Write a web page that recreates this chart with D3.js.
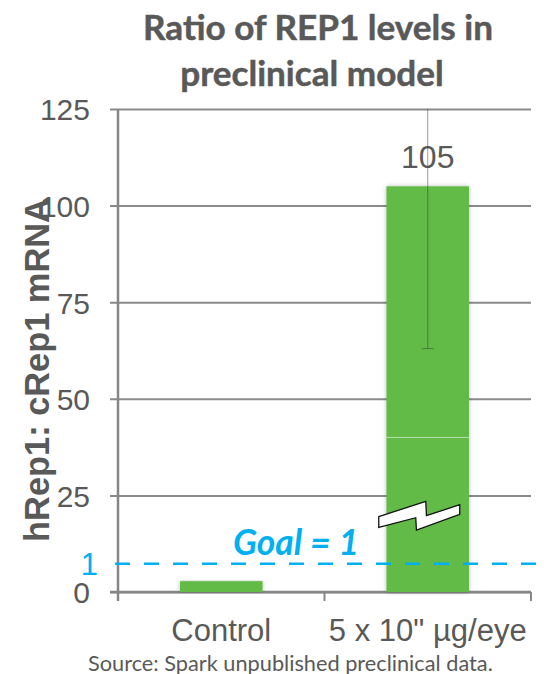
<!DOCTYPE html>
<html>
<head>
<meta charset="utf-8">
<script src="https://cdn.jsdelivr.net/npm/d3@7"></script>
<style>
  html, body { margin: 0; padding: 0; background: #fff; }
  svg { display: block; }
</style>
</head>
<body>
<svg id="chart" width="544" height="674"></svg>
<script>
// ---- data ----
const titleLines = ["Ratio of REP1 levels in", "preclinical model"];
const yAxisTitle = "hRep1: cRep1 mRNA";
const categories = ["Control", "5 x 10\" µg/eye"];
const values = [2.8, 105];
const valueLabels = ["", "105"];
const errLow = [null, 63];
const errHigh = [null, 147];
const yTicks = [0, 25, 50, 75, 100, 125];
const goalValue = 7.3;        // drawn height of the goal line (labelled "1")
const goalAxisLabel = "1";
const goalText = "Goal = 1";
const breakValue = 20;        // where the axis-break symbol sits on the tall bar
const gapValue = 40;          // faint gap in the tall bar
const sourceText = "Source: Spark unpublished preclinical data.";

// ---- layout ----
const svg = d3.select("#chart");
const W = 544;
const plot = { left: 118, right: 531, top: 109, bottom: 592 };
const gray = "#595959";
const gridCol = "#8a8a8a";
const green = "#62bb46";
const blue = "#00b0f0";
const armo = "'Liberation Sans', Arial, sans-serif";
const cal = "Lato, 'Open Sans', sans-serif";

const x = d3.scaleBand().domain(categories).range([plot.left, plot.right]).padding(0);
const y = d3.scaleLinear().domain([0, 125]).range([plot.bottom, plot.top]);
const barW = x.bandwidth() * 0.40;

function fit(sel, target) {
  const fs = parseFloat(sel.attr("font-size"));
  const w = sel.node().getComputedTextLength();
  sel.attr("font-size", fs * target / w);
  return fs * target / w;
}

// defs: soft shadow for bars
const defs = svg.append("defs");
const f = defs.append("filter").attr("id", "sh").attr("x", "-20%").attr("y", "-5%").attr("width", "140%").attr("height", "110%");
f.append("feDropShadow").attr("dx", 0).attr("dy", 0).attr("stdDeviation", 2)
  .attr("flood-color", "#000").attr("flood-opacity", 0.28);

// ---- title ----
const t1 = svg.append("text").attr("x", 318).attr("y", 40).attr("text-anchor", "middle")
  .attr("font-family", cal).attr("font-weight", 700).attr("font-size", 34).attr("fill", gray)
  .attr("stroke", gray).attr("stroke-width", 0.5)
  .text(titleLines[0]);
const tfs = fit(t1, 350);
svg.append("text").attr("x", 312).attr("y", 86).attr("text-anchor", "middle")
  .attr("font-family", cal).attr("font-weight", 700).attr("font-size", tfs).attr("fill", gray)
  .attr("stroke", gray).attr("stroke-width", 0.5)
  .text(titleLines[1]);

// ---- gridlines + y tick labels ----
const yAxis = d3.axisLeft(y).tickValues(yTicks).tickSize(-(plot.right - 110)).tickPadding(20)
  .tickFormat(d3.format("d"));
const gy = svg.append("g").attr("transform", "translate(110,0)").call(yAxis);
gy.select(".domain").remove();
gy.selectAll(".tick line").attr("stroke", gridCol).attr("stroke-width", 2);
gy.selectAll(".tick text").attr("font-family", armo).attr("font-size", 30).attr("fill", gray)
  .attr("dy", "0.36em");

// y axis vertical line
svg.append("line").attr("x1", plot.left).attr("x2", plot.left)
  .attr("y1", y(125)).attr("y2", plot.bottom + 9)
  .attr("stroke", "#868686").attr("stroke-width", 2.5);

// x axis line + ticks
svg.append("line").attr("x1", 110).attr("x2", plot.right).attr("y1", y(0)).attr("y2", y(0))
  .attr("stroke", "#868686").attr("stroke-width", 2.5);
const bounds = categories.map(c => x(c)).concat([x.range()[1]]);
svg.selectAll(".xt").data(bounds).join("line").attr("class", "xt")
  .attr("x1", d => d).attr("x2", d => d).attr("y1", y(0)).attr("y2", y(0) + 9)
  .attr("stroke", "#868686").attr("stroke-width", 2);

// x labels
svg.selectAll(".xl").data(categories).join("text").attr("class", "xl")
  .attr("x", d => x(d) + x.bandwidth() / 2).attr("y", 641).attr("text-anchor", "middle")
  .attr("font-family", armo).attr("font-size", 31).attr("fill", gray).text(d => d);

// ---- bars ----
const cx = i => x(categories[i]) + x.bandwidth() / 2;
svg.selectAll(".bar").data(values).join("rect").attr("class", "bar")
  .attr("x", (d, i) => cx(i) - barW / 2).attr("width", barW)
  .attr("y", d => y(d)).attr("height", d => y(0) - y(d))
  .attr("fill", green).attr("filter", "url(#sh)");

// faint gap in tall bar
const tallI = values.indexOf(d3.max(values));
svg.append("line").attr("x1", cx(tallI) - barW / 2).attr("x2", cx(tallI) + barW / 2)
  .attr("y1", y(gapValue)).attr("y2", y(gapValue)).attr("stroke", "#fff")
  .attr("stroke-opacity", 0.55).attr("stroke-width", 1);

// axis break symbol
const bx = cx(tallI), by = y(breakValue);
const zig = [[-49, 2], [-2, -13.4], [-1.3, 1], [32, -10], [32, -0.4], [-11.3, 15.3], [-12, 3], [-49, 12.6]];
svg.append("path").attr("d", d3.line()(zig.map(p => [bx + p[0], by + p[1]])) + "Z")
  .attr("fill", "#fff").attr("stroke", "#111").attr("stroke-width", 1.3).attr("stroke-linejoin", "miter");

// value labels
svg.selectAll(".vl").data(values).join("text").attr("class", "vl")
  .attr("x", (d, i) => cx(i)).attr("y", d => y(d) - 18).attr("text-anchor", "middle")
  .attr("font-family", armo).attr("font-size", 32).attr("fill", gray)
  .text((d, i) => valueLabels[i]);

// error bars
values.forEach((v, i) => {
  if (errLow[i] == null) return;
  const top = Math.min(errHigh[i], y.domain()[1]);
  svg.append("line").attr("x1", cx(i)).attr("x2", cx(i)).attr("y1", y(errLow[i])).attr("y2", y(top))
    .attr("stroke", "#3c3c3c").attr("stroke-opacity", 0.5).attr("stroke-width", 1);
  svg.append("line").attr("x1", cx(i) - 6).attr("x2", cx(i) + 6).attr("y1", y(errLow[i])).attr("y2", y(errLow[i]))
    .attr("stroke", "#3c3c3c").attr("stroke-opacity", 0.5).attr("stroke-width", 1);
});

// ---- goal line ----
svg.append("line").attr("x1", 115).attr("x2", W).attr("y1", y(goalValue)).attr("y2", y(goalValue))
  .attr("stroke", blue).attr("stroke-width", 2.5).attr("stroke-dasharray", "15,14");
svg.append("text").attr("x", 98).attr("y", y(goalValue) + 11).attr("text-anchor", "end")
  .attr("font-family", armo).attr("font-size", 31).attr("fill", blue).text(goalAxisLabel);
const gt = svg.append("text").attr("x", 233).attr("y", 555)
  .attr("font-family", cal).attr("font-weight", 700).attr("font-style", "italic")
  .attr("font-size", 30).attr("fill", blue).text(goalText);
fit(gt, 126);

// ---- y axis title ----
const yt = svg.append("text").attr("transform", "translate(49,370) rotate(-90)")
  .attr("text-anchor", "middle").attr("font-family", armo).attr("font-weight", 700)
  .attr("font-size", 33).attr("fill", gray).text(yAxisTitle);
fit(yt, 344);

// ---- source ----
const st = svg.append("text").attr("x", 88).attr("y", 671)
  .attr("font-family", cal).attr("font-size", 20).attr("fill", gray).text(sourceText);
fit(st, 405);
</script>
</body>
</html>
